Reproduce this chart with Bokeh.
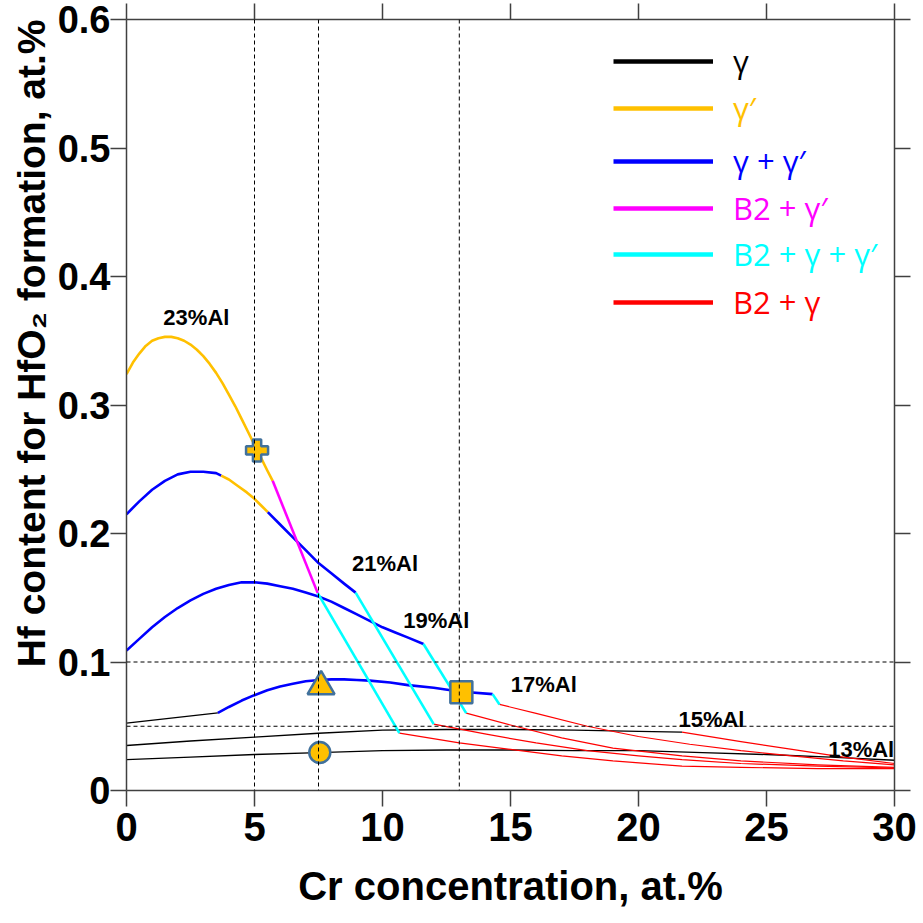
from bokeh.plotting import figure
from bokeh.models import (Span, Legend, LegendItem, LinearAxis, FixedTicker,
                          Range1d, Title)
from bokeh.core.properties import value
from bokeh.embed import file_html
from bokeh.resources import INLINE

# ---------------- data ----------------
x_ticks = [0, 5, 10, 15, 20, 25, 30]
y_ticks = [0, 0.1, 0.2, 0.3, 0.4, 0.5, 0.6]
y_tick_labels = ["0", "0.1", "0.2", "0.3", "0.4", "0.5", "0.6"]

# 23 % Al
al23_gp_x = [0, 0.25, 0.5, 0.75, 1.0, 1.25, 1.5, 1.75, 2.0, 2.25, 2.5, 2.75, 3.0,
             3.25, 3.5, 3.75, 4.0, 4.25, 4.5, 4.75, 5.0, 5.25, 5.5, 5.71]
al23_gp_y = [0.324, 0.333, 0.340, 0.346, 0.350, 0.352, 0.353, 0.353, 0.352, 0.350,
             0.347, 0.343, 0.338, 0.332, 0.325, 0.317, 0.308, 0.299, 0.289, 0.279,
             0.269, 0.259, 0.249, 0.241]
al23_b2gp_x = [5.71, 7.47]
al23_b2gp_y = [0.241, 0.1536]
al23_b2ggp_x = [7.47, 10.66]
al23_b2ggp_y = [0.1536, 0.0447]
al23_b2g_x = [10.66, 13, 15, 17, 19, 21.7, 24, 27, 30]
al23_b2g_y = [0.0447, 0.037, 0.032, 0.027, 0.023, 0.019, 0.018, 0.017, 0.017]

# 21 % Al
al21_ggp1_x = [0, 0.5, 1.0, 1.5, 2.0, 2.5, 3.0, 3.5, 3.7]
al21_ggp1_y = [0.215, 0.225, 0.234, 0.241, 0.246, 0.248, 0.248, 0.247, 0.245]
al21_gp_x = [3.7, 4.0, 4.35, 4.7, 5.0, 5.25, 5.52]
al21_gp_y = [0.245, 0.242, 0.237, 0.232, 0.227, 0.222, 0.2166]
al21_ggp2_x = [5.52, 6.0, 6.5, 7.0, 7.5, 8.0, 8.5, 8.95]
al21_ggp2_y = [0.2166, 0.207, 0.197, 0.187, 0.177, 0.169, 0.161, 0.154]
al21_b2ggp_x = [8.95, 12.0]
al21_b2ggp_y = [0.154, 0.0516]
al21_b2g_x = [12.0, 14, 16, 18, 20, 21.7, 24, 27, 30]
al21_b2g_y = [0.0516, 0.044, 0.037, 0.031, 0.027, 0.024, 0.021, 0.019, 0.0175]

# 19 % Al
al19_ggp_x = [0, 0.5, 1, 1.5, 2, 2.5, 3, 3.5, 4, 4.5, 5, 5.5, 6, 6.5, 7, 7.5, 8,
              8.5, 9, 9.5, 10, 10.5, 11, 11.6]
al19_ggp_y = [0.109, 0.118, 0.127, 0.135, 0.142, 0.148, 0.153, 0.157, 0.160, 0.162,
              0.162, 0.161, 0.159, 0.157, 0.154, 0.151, 0.147, 0.142, 0.137, 0.132,
              0.127, 0.123, 0.119, 0.114]
al19_b2ggp_x = [11.6, 13.27]
al19_b2ggp_y = [0.114, 0.0602]
al19_b2g_x = [13.27, 15, 17, 19, 21.7, 24, 27, 30]
al19_b2g_y = [0.0602, 0.051, 0.041, 0.033, 0.027, 0.023, 0.020, 0.018]

# 17 % Al
al17_g_x = [0, 3.57]
al17_g_y = [0.0524, 0.0604]
al17_ggp_x = [3.57, 4.0, 4.5, 4.97, 5.5, 6.0, 6.5, 7.0, 7.54, 8.0, 8.5, 9.0, 9.5,
              10.3, 11, 12, 13, 14.3]
al17_ggp_y = [0.0604, 0.065, 0.070, 0.074, 0.078, 0.081, 0.083, 0.085, 0.086,
              0.0865, 0.0865, 0.086, 0.0855, 0.084, 0.082, 0.080, 0.077, 0.075]
al17_b2ggp_x = [14.3, 14.57]
al17_b2ggp_y = [0.075, 0.067]
al17_b2g_x = [14.57, 16, 18, 20, 22, 24, 26, 28, 30]
al17_b2g_y = [0.067, 0.060, 0.050, 0.042, 0.036, 0.031, 0.027, 0.023, 0.020]

# 15 % Al
al15_g_x = [0, 2.5, 5, 7.5, 10, 12.5, 15, 17.5, 20, 21.7]
al15_g_y = [0.035, 0.0385, 0.0415, 0.0445, 0.047, 0.0475, 0.0475, 0.047, 0.046, 0.0454]
al15_b2g_x = [21.7, 24, 26, 28, 30]
al15_b2g_y = [0.0454, 0.038, 0.032, 0.026, 0.021]

# 13 % Al
al13_g_x = [0, 2.5, 5, 7.5, 10, 12.5, 15, 17.5, 20, 22.5, 25, 27.5, 30]
al13_g_y = [0.024, 0.026, 0.028, 0.0295, 0.031, 0.0315, 0.0315, 0.031, 0.031,
            0.0295, 0.028, 0.026, 0.0235]

# curve labels
label_text = ["23%Al", "21%Al", "19%Al", "17%Al", "15%Al", "13%Al"]
label_x = [2.73, 10.1, 12.1, 16.3, 22.85, 28.7]
label_y = [0.368, 0.1767, 0.132, 0.0825, 0.055, 0.032]

# highlighted alloys
marker_x = [5.1, 7.6, 13.08, 7.55]
marker_y = [0.2646, 0.081, 0.0765, 0.0296]
marker_type = ["plus", "triangle", "square", "circle"]

# reference (dashed) lines
vlines = [5, 7.5, 13]
hlines = [0.05, 0.1]

# phase legend
phase_names = ["γ", "γ′", "γ + γ′", "B2 + γ′", "B2 + γ + γ′", "B2 + γ"]
phase_colors = ["#000000", "#FFC000", "#0000FF", "#FF00FF", "#00FFFF", "#FF0000"]

x_title = "Cr concentration, at.%"
y_title = "Hf content for HfO₂ formation, at.%"

# ---------------- figure ----------------
W = H = 921
FL, FR, FT, FB = 126, 894, 19, 790          # frame edges in page pixels
p = figure(width=W, height=H, x_range=Range1d(0, 30), y_range=Range1d(0, 0.6),
           output_backend="svg", toolbar_location=None,
           min_border_left=FL, min_border_right=W - FR, min_border_top=FT,
           min_border_bottom=H - FB)
p.xgrid.visible = False
p.ygrid.visible = False
p.outline_line_color = None
p.background_fill_color = "white"

FONT_B = "Liberation Sans"
AX_COL = "#404040"

for ax in (p.xaxis[0], p.yaxis[0]):
    ax.axis_line_color = AX_COL
    ax.axis_line_width = 1.5
    ax.major_tick_line_color = AX_COL
    ax.major_tick_line_width = 1.5
    ax.major_tick_out = 16
    ax.major_tick_in = 0
    ax.minor_tick_out = 0
    ax.minor_tick_in = 0
    ax.axis_label_text_font = FONT_B
    ax.major_label_text_font = FONT_B
    ax.axis_label_text_font_style = "bold"
    ax.major_label_text_font_style = "bold"
    ax.major_label_text_color = "black"
    ax.axis_label_text_color = "black"

p.xaxis.ticker = FixedTicker(ticks=x_ticks)
p.xaxis.major_label_text_font_size = "40px"
p.xaxis.major_label_standoff = 6
p.xaxis.axis_label = x_title
p.xaxis.axis_label_text_font_size = "40px"
p.xaxis.axis_label_standoff = 20

p.yaxis.ticker = FixedTicker(ticks=y_ticks)
p.yaxis.major_label_overrides = {t: s for t, s in zip(y_ticks, y_tick_labels)}
p.yaxis.major_label_text_font_size = "38px"
p.yaxis.major_label_standoff = 0

# y-axis title: placed on the left, aligned to the top end like the reference
p.add_layout(Title(text=y_title, align="right", text_font=FONT_B,
                   text_font_style="bold", text_font_size="39px",
                   text_color="black", standoff=4, offset=0), "left")

for loc, tick_src in (("right", y_ticks), ("above", x_ticks)):
    ax = LinearAxis(ticker=FixedTicker(ticks=tick_src),
                    major_label_text_font_size="1px",
                    major_label_text_color=None,
                    axis_line_color=AX_COL, axis_line_width=1.5,
                    major_tick_line_color=AX_COL, major_tick_line_width=1.5,
                    major_tick_out=16, major_tick_in=0,
                    minor_tick_out=0, minor_tick_in=0,
                    major_label_standoff=0)
    p.add_layout(ax, loc)

# dashed reference lines
for v in vlines:
    p.add_layout(Span(location=v, dimension="height", line_color="black",
                      line_width=1, line_dash="4 3"))
for h in hlines:
    p.add_layout(Span(location=h, dimension="width", line_color="black",
                      line_width=1, line_dash="4 3"))

# phase curves
C_G, C_GP, C_GGP, C_B2GP, C_B2GGP, C_B2G = phase_colors
thick = 2.6
segments = [
    (al13_g_x, al13_g_y, C_G, 1.4),
    (al15_g_x, al15_g_y, C_G, 1.4),
    (al15_b2g_x, al15_b2g_y, C_B2G, 1.2),
    (al17_g_x, al17_g_y, C_G, 1.4),
    (al17_b2g_x, al17_b2g_y, C_B2G, 1.2),
    (al19_b2g_x, al19_b2g_y, C_B2G, 1.2),
    (al21_b2g_x, al21_b2g_y, C_B2G, 1.2),
    (al23_b2g_x, al23_b2g_y, C_B2G, 1.2),
    (al17_ggp_x, al17_ggp_y, C_GGP, thick),
    (al17_b2ggp_x, al17_b2ggp_y, C_B2GGP, thick),
    (al19_ggp_x, al19_ggp_y, C_GGP, thick),
    (al19_b2ggp_x, al19_b2ggp_y, C_B2GGP, thick),
    (al21_ggp1_x, al21_ggp1_y, C_GGP, thick),
    (al21_gp_x, al21_gp_y, C_GP, thick),
    (al21_ggp2_x, al21_ggp2_y, C_GGP, thick),
    (al21_b2ggp_x, al21_b2ggp_y, C_B2GGP, thick),
    (al23_gp_x, al23_gp_y, C_GP, thick),
    (al23_b2gp_x, al23_b2gp_y, C_B2GP, thick),
    (al23_b2ggp_x, al23_b2ggp_y, C_B2GGP, thick),
]
for xs, ys, c, w in segments:
    p.line(xs, ys, line_color=c, line_width=w, line_join="round")

# curve labels
p.text(x=label_x, y=label_y, text=label_text, text_font=value(FONT_B),
       text_font_style="bold", text_font_size="22px", text_color="black",
       text_align="center", text_baseline="middle")

# markers (style per marker shape)
marker_style = {"plus": 22, "triangle": 27, "square": 22, "circle": 21}
for mx, my, mt in zip(marker_x, marker_y, marker_type):
    p.scatter(x=[mx], y=[my], marker=mt, size=marker_style[mt],
              fill_color="#FFC000", line_color="#41719C", line_width=2.5)

# legend: one legend per phase so each label keeps its own colour;
# each entry uses a hidden proxy line (thick) for its swatch
legend_centers = [42, 89, 142, 189, 235, 283]  # px below frame top
frame_h = FB - FT
for name, col, cy in zip(phase_names, phase_colors, legend_centers):
    r = p.line(x=al13_g_x, y=al13_g_y, line_color=col, line_width=4.5,
               visible=False)
    lg = Legend(items=[LegendItem(label=name, renderers=[r])],
                location=(487, frame_h - cy - 21),
                glyph_width=100, glyph_height=30, label_height=30,
                label_standoff=20, padding=0, margin=0, spacing=0,
                border_line_color=None, background_fill_alpha=0,
                inactive_fill_alpha=0,
                label_text_color=col, label_text_font="Open Sans",
                label_text_font_size="31px", label_text_baseline="middle")
    p.add_layout(lg, "center")

html = file_html(p, INLINE)
open("out.html", "w").write(html)
